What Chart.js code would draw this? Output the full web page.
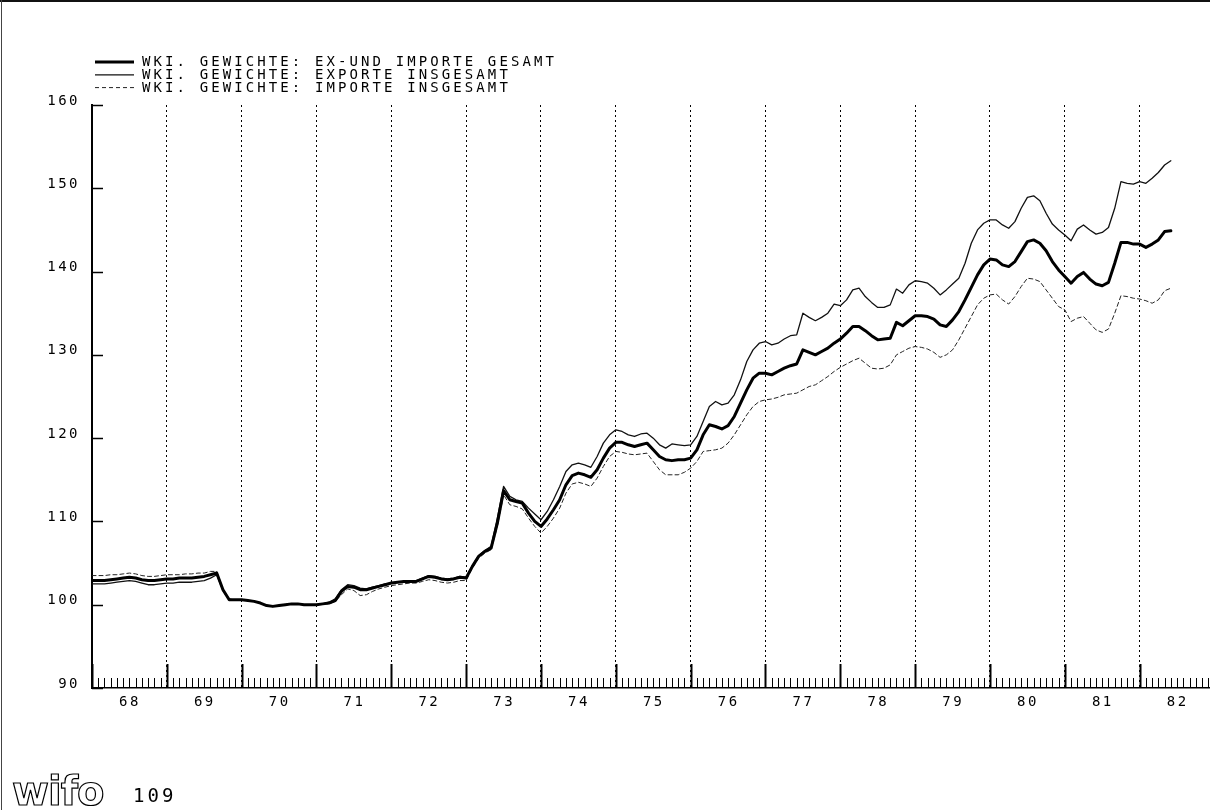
<!DOCTYPE html>
<html>
<head>
<meta charset="utf-8">
<title>WKI Gewichte</title>
<script src="https://cdn.jsdelivr.net/npm/chart.js@4.4.1/dist/chart.umd.min.js"></script>
<style>
  html, body { margin: 0; padding: 0; background: #fff; }
  #page { position: relative; width: 1210px; height: 810px; overflow: hidden; background: #fff; }
  #page canvas { position: absolute; left: 0; top: 0; }
  .frame-top { position: absolute; left: 0; top: 0; width: 1210px; height: 2px; background: #111; }
  .frame-left { position: absolute; left: 1px; top: 0; width: 1px; height: 810px; background: #444; }
  #logo { position: absolute; left: 12px; top: 771px; font: bold 40px "DejaVu Sans"; color: #fff;
          -webkit-text-stroke: 1.2px #000; letter-spacing: -1px; line-height: 1; }
  #pageno { position: absolute; left: 133px; top: 786px; font: 19px "DejaVu Sans Mono";
            letter-spacing: 3px; color: #000; line-height: 1; }
</style>
</head>
<body>
<div id="page">
  <canvas id="chart" width="1210" height="810"></canvas>
  <div class="frame-top"></div>
  <div class="frame-left"></div>
  <div id="logo">wifo</div>
  <div id="pageno">109</div>
</div>
<script>
// Monthly index values, January 1968 to June 1982 (1970 = 100 area)
const startYear = 68;
const yearTicks = [68, 69, 70, 71, 72, 73, 74, 75, 76, 77, 78, 79, 80, 81, 82];
const valueTicks = [90, 100, 110, 120, 130, 140, 150, 160];

const seriesLabels = [
  'WKI. GEWICHTE: EX-UND IMPORTE GESAMT',
  'WKI. GEWICHTE: EXPORTE INSGESAMT',
  'WKI. GEWICHTE: IMPORTE INSGESAMT'
];

const totalWeights = [
  102.9, 102.9, 102.9, 103.0, 103.1, 103.2, 103.3, 103.2, 103.0, 102.9, 102.9, 103.0,
  103.1, 103.1, 103.2, 103.2, 103.2, 103.3, 103.4, 103.6, 103.8, 101.8, 100.6, 100.6,
  100.6, 100.5, 100.4, 100.2, 99.9, 99.8, 99.9, 100.0, 100.1, 100.1, 100.0, 100.0,
  100.0, 100.1, 100.2, 100.5, 101.6, 102.2, 102.1, 101.8, 101.8, 102.0, 102.2, 102.4,
  102.6, 102.7, 102.8, 102.8, 102.8, 103.1, 103.4, 103.3, 103.1, 103.0, 103.1, 103.3,
  103.2, 104.6, 105.8, 106.4, 106.8, 109.8, 113.7, 112.6, 112.4, 112.2, 111.0, 110.0,
  109.4, 110.3, 111.4, 112.6, 114.4, 115.5, 115.8, 115.6, 115.3, 116.2, 117.6, 118.8,
  119.5, 119.5, 119.2, 119.0, 119.2, 119.4, 118.6, 117.8, 117.4, 117.3, 117.4, 117.4,
  117.6, 118.6, 120.4, 121.6, 121.4, 121.1, 121.5, 122.6, 124.2, 125.8, 127.2, 127.8,
  127.8, 127.6, 128.0, 128.4, 128.7, 128.9, 130.6, 130.3, 130.0, 130.4, 130.8, 131.4,
  131.9, 132.6, 133.4, 133.4, 132.9, 132.3, 131.8, 131.9, 132.0, 133.9, 133.5, 134.1,
  134.7, 134.7, 134.6, 134.3, 133.6, 133.4, 134.2, 135.2, 136.6, 138.1, 139.6, 140.8,
  141.5, 141.4, 140.8, 140.6, 141.2, 142.4, 143.6, 143.8, 143.4, 142.5, 141.2, 140.2,
  139.4, 138.6, 139.4, 139.9, 139.1, 138.5, 138.3, 138.7, 141.0, 143.5, 143.5, 143.3,
  143.3, 142.9, 143.3, 143.8, 144.8, 144.9
];

const exportWeights = [
  102.5, 102.5, 102.5, 102.6, 102.7, 102.8, 102.9, 102.8, 102.6, 102.4, 102.4, 102.5,
  102.6, 102.6, 102.7, 102.7, 102.7, 102.8, 102.9, 103.2, 103.6, 101.7, 100.6, 100.6,
  100.6, 100.5, 100.4, 100.2, 99.9, 99.8, 99.9, 100.0, 100.1, 100.1, 100.0, 100.0,
  100.0, 100.1, 100.3, 100.7, 101.8, 102.4, 102.3, 102.0, 101.9, 102.1, 102.3, 102.5,
  102.6, 102.7, 102.8, 102.8, 102.9, 103.2, 103.5, 103.4, 103.2, 103.1, 103.2, 103.4,
  103.3, 104.7, 105.9, 106.5, 107.0, 110.4, 114.2, 113.0, 112.6, 112.4, 111.6, 110.9,
  110.2, 111.2, 112.6, 114.2, 116.0, 116.8, 117.0, 116.8, 116.5, 117.8, 119.4, 120.4,
  121.0, 120.8, 120.4, 120.2, 120.5, 120.6, 120.0, 119.2, 118.8, 119.3, 119.2, 119.1,
  119.2, 120.2, 122.0, 123.8, 124.4, 124.0, 124.2, 125.2, 127.0, 129.2, 130.6, 131.4,
  131.6, 131.2, 131.4, 131.9, 132.3, 132.4, 135.0, 134.5, 134.1, 134.5, 135.0, 136.1,
  135.9, 136.6, 137.8, 138.0, 137.0, 136.3, 135.7, 135.7, 136.0, 137.9, 137.4, 138.4,
  138.9, 138.8, 138.6, 138.0, 137.2, 137.8, 138.5, 139.2, 141.0, 143.4, 145.0, 145.8,
  146.2, 146.2, 145.6, 145.2, 146.0, 147.6, 148.9, 149.1, 148.5, 147.0, 145.7, 145.0,
  144.4, 143.7, 145.1, 145.6, 145.0, 144.5, 144.7, 145.3, 147.6, 150.8, 150.6, 150.5,
  150.8, 150.6, 151.2, 151.9, 152.8, 153.3
];

const importWeights = [
  103.5, 103.5, 103.5, 103.6, 103.6, 103.7, 103.8, 103.7, 103.5, 103.4, 103.4, 103.5,
  103.6, 103.6, 103.6, 103.7, 103.7, 103.8, 103.8, 104.0, 104.0, 101.9, 100.7, 100.6,
  100.6, 100.5, 100.4, 100.2, 99.9, 99.8, 99.9, 100.0, 100.1, 100.1, 100.0, 100.0,
  100.0, 100.1, 100.1, 100.4, 101.2, 101.9, 101.7, 101.1, 101.2, 101.6, 101.9, 102.1,
  102.3, 102.4, 102.5, 102.6, 102.6, 102.8, 103.0, 102.9, 102.7, 102.6, 102.7, 102.9,
  102.9, 104.4, 105.6, 106.2, 106.6, 109.4, 113.2, 112.0, 111.8, 111.5, 110.4, 109.4,
  108.6, 109.4, 110.4, 111.6, 113.4, 114.5, 114.7, 114.5, 114.2, 115.2, 116.6, 117.8,
  118.4, 118.3, 118.1, 118.0, 118.1, 118.2, 117.2, 116.2, 115.6, 115.6, 115.6, 115.9,
  116.4, 117.2, 118.4, 118.5, 118.6, 118.8, 119.4, 120.4, 121.6, 122.8, 123.8, 124.4,
  124.6, 124.7, 124.9, 125.2, 125.3, 125.4, 125.8, 126.2, 126.4, 126.9, 127.4, 128.0,
  128.5, 128.9, 129.3, 129.6, 129.0, 128.4, 128.3, 128.4, 128.8, 130.0, 130.4, 130.8,
  131.0, 130.9, 130.7, 130.3, 129.7, 130.0, 130.6, 131.8, 133.2, 134.6, 136.0, 136.8,
  137.2, 137.3, 136.6, 136.1, 137.0, 138.2, 139.2, 139.1, 138.8, 137.8, 136.8, 135.8,
  135.4, 134.0, 134.4, 134.6, 133.8, 133.0, 132.7, 133.1, 135.0, 137.1, 137.0, 136.8,
  136.7, 136.5, 136.2, 136.6, 137.7, 138.0
];

// month i of the series sits at year startYear + i/12 on the linear x axis
const toPoints = arr => arr.map((v, i) => ({ x: startYear + i / 12, y: v }));

const MONO = '"DejaVu Sans Mono", "Liberation Mono", monospace';

// plotter-style extras: monthly ticks on the base line, inner ticks on the value axis,
// and the stacked legend in the upper left corner
const plotterDecor = {
  id: 'plotterDecor',
  beforeDraw(chart) {
    chart.ctx.letterSpacing = '2.5px';
  },
  afterDraw(chart) {
    const ctx = chart.ctx;
    const xs = chart.scales.x;
    const ys = chart.scales.y;
    const base = ys.getPixelForValue(ys.min);
    ctx.save();
    ctx.strokeStyle = '#000';
    // month ticks
    const months = Math.floor((xs.max - xs.min) * 12 + 1e-6);
    for (let m = 0; m <= months; m++) {
      const px = Math.round(xs.getPixelForValue(xs.min + m / 12)) + 0.5;
      const yearMark = m % 12 === 0;
      ctx.lineWidth = yearMark ? 2 : 1;
      ctx.beginPath();
      ctx.moveTo(px, base);
      ctx.lineTo(px, base - (yearMark ? 24 : 10));
      ctx.stroke();
    }
    // value ticks pointing into the plot
    ctx.lineWidth = 1.5;
    valueTicks.forEach(v => {
      const py = Math.round(ys.getPixelForValue(v)) + 0.5;
      ctx.beginPath();
      ctx.moveTo(xs.left, py);
      ctx.lineTo(xs.left + 11, py);
      ctx.stroke();
    });
    // legend
    ctx.font = '14px ' + MONO;
    ctx.letterSpacing = '3.1px';
    ctx.textBaseline = 'middle';
    ctx.textAlign = 'left';
    ctx.fillStyle = '#000';
    chart.data.datasets.forEach((ds, k) => {
      const y = 62 + k * 12.8;
      ctx.beginPath();
      ctx.lineWidth = ds.borderWidth;
      ctx.strokeStyle = ds.borderColor;
      ctx.setLineDash(ds.borderDash || []);
      ctx.moveTo(95, y);
      ctx.lineTo(134, y);
      ctx.stroke();
      ctx.setLineDash([]);
      ctx.fillText(ds.label, 142, y + 0.5);
    });
    ctx.restore();
  }
};

new Chart(document.getElementById('chart'), {
  type: 'line',
  data: {
    datasets: [
      {
        label: seriesLabels[0],
        data: toPoints(totalWeights),
        borderColor: '#000',
        borderWidth: 3,
        order: 0
      },
      {
        label: seriesLabels[1],
        data: toPoints(exportWeights),
        borderColor: '#111',
        borderWidth: 1.3,
        order: 1
      },
      {
        label: seriesLabels[2],
        data: toPoints(importWeights),
        borderColor: '#222',
        borderWidth: 1,
        borderDash: [4, 3],
        order: 2
      }
    ]
  },
  options: {
    responsive: false,
    animation: false,
    events: [],
    elements: {
      point: { radius: 0 },
      line: { tension: 0, borderJoinStyle: 'round', borderCapStyle: 'round' }
    },
    layout: { padding: { top: 105, left: 0, right: 0, bottom: 0 } },
    plugins: {
      legend: { display: false },
      tooltip: { enabled: false },
      title: { display: false }
    },
    scales: {
      x: {
        type: 'linear',
        min: 68,
        max: 82.94,
        afterBuildTicks: scale => { scale.ticks = yearTicks.map(v => ({ value: v })); },
        afterFit: scale => { scale.height = 122; },
        ticks: {
          autoSkip: false,
          maxRotation: 0,
          color: '#000',
          font: { family: MONO, size: 14 },
          padding: 6,
          labelOffset: 38,
          callback: v => String(v)
        },
        grid: {
          drawTicks: false,
          lineWidth: 1,
          color: c => (c.tick && c.tick.value === 68 ? 'rgba(0,0,0,0)' : '#000')
        },
        border: { display: true, color: '#000', width: 1.5, dash: [2, 3] }
      },
      y: {
        min: 90,
        max: 160,
        afterBuildTicks: scale => { scale.ticks = valueTicks.map(v => ({ value: v })); },
        afterFit: scale => { scale.width = 92; },
        ticks: {
          color: '#000',
          font: { family: MONO, size: 14 },
          padding: 12,
          labelOffset: -4,
          callback: v => String(v)
        },
        grid: { display: false, drawTicks: false },
        border: { display: true, color: '#000', width: 2 }
      }
    }
  },
  plugins: [plotterDecor]
});
</script>
</body>
</html>
